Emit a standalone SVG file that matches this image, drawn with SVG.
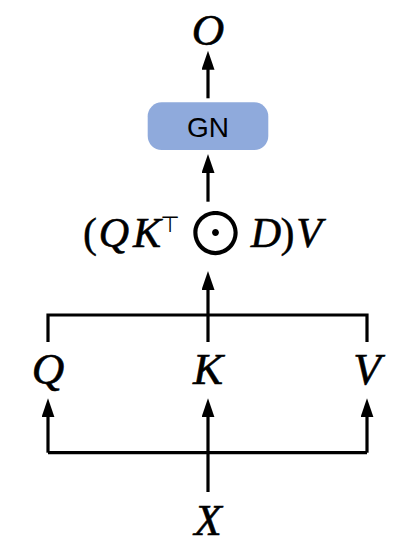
<svg xmlns="http://www.w3.org/2000/svg" width="415" height="554" viewBox="0 0 415 554">
<style>
.ln{fill:none;stroke:#000;stroke-width:3.2}
.arr{fill:none;stroke:#000;stroke-width:3.2;marker-end:url(#ah)}
.m{font-family:"Liberation Serif","Times New Roman",serif;font-style:italic;font-size:42px;fill:#000;stroke:#000;stroke-width:0.6;text-anchor:middle}
.lb{font-size:45px}
.up{font-family:"Liberation Serif","Times New Roman",serif;font-size:42px;fill:#000;stroke:#000;stroke-width:0.4;text-anchor:middle}
.sym{font-family:"DejaVu Sans",sans-serif;fill:#000;text-anchor:middle}
.odot{font-family:"Noto Sans CJK SC","DejaVu Sans",sans-serif;fill:#000;text-anchor:middle}
.gn{font-family:"Liberation Sans",Arial,sans-serif;font-size:28px;fill:#000;text-anchor:middle}
</style>
<defs>
<marker id="ah" markerUnits="userSpaceOnUse" markerWidth="20" markerHeight="14" refX="2" refY="6.5" orient="auto">
<path d="M0,0 L19,6.5 L0,13 z" fill="#000"/>
</marker>
</defs>
<g id="connectors">
<path class="arr" d="M208,98.3 V67.7"/>
<path class="arr" d="M208,201.7 V171"/>
<path class="arr" d="M208,342 V288"/>
<path class="ln" d="M48,342 V315 H367 V342"/>
<path class="ln" d="M48,452.7 H367"/>
<path class="arr" d="M48,452.7 V415.3"/>
<path class="arr" d="M367,452.7 V415.3"/>
<path class="arr" d="M208,492 V415.3"/>
</g>
<g id="node-O"><text class="m lb" x="208" y="45">O</text></g>
<g id="node-GN">
<rect x="147.7" y="102.3" width="120.6" height="47.7" rx="14" fill="#8FAADC"/>
<text class="gn" x="208" y="137">GN</text>
</g>
<g id="node-expr">
<text class="up" x="90" y="246.7">(</text>
<text class="m" x="114" y="246.7">Q</text>
<text class="m" x="147" y="246.7">K</text>
<text class="sym" x="170" y="232" font-size="22">⊤</text>
<text class="odot" x="215.5" y="255.5" font-size="60">⊙</text>
<text class="m" x="266" y="246.7">D</text>
<text class="up" x="287.5" y="246.7">)</text>
<text class="m" x="309" y="246.7">V</text>
</g>
<g id="node-Q"><text class="m lb" x="48" y="384">Q</text></g>
<g id="node-K"><text class="m lb" x="208" y="384">K</text></g>
<g id="node-V"><text class="m lb" x="367" y="384">V</text></g>
<g id="node-X"><text class="m lb" x="208" y="535">X</text></g>
</svg>
